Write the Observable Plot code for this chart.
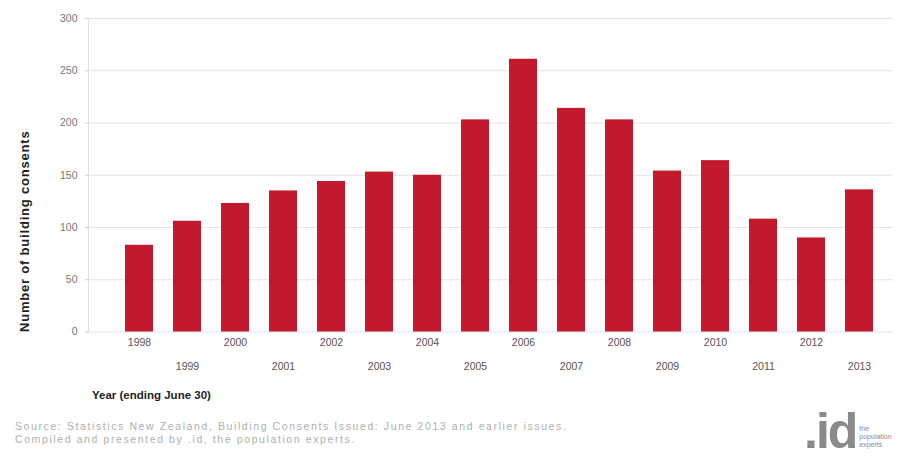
<!DOCTYPE html>
<html>
<head>
<meta charset="utf-8">
<script src="https://cdn.jsdelivr.net/npm/d3@7"></script>
<script src="https://cdn.jsdelivr.net/npm/@observablehq/plot@0.6"></script>
<style>
  body { margin: 0; width: 904px; height: 465px; position: relative; background: #fff; font-family: "Liberation Sans", Arial, sans-serif; overflow: hidden; }
  #chart { position: absolute; left: 0; top: 0; }
  .xtitle { position: absolute; left: 92px; top: 389px; font-weight: bold; font-size: 11.5px; color: #222; }
  .source { position: absolute; left: 15px; top: 420px; font-size: 10.5px; letter-spacing: 1.6px; color: #b0b0b0; line-height: 13px; }
  .logo { position: absolute; left: 804px; top: 405px; color: #8a8a8a; display: flex; align-items: flex-end; }
  .logo .big { font-size: 50px; font-weight: bold; letter-spacing: -2px; line-height: 52px; }
  .logo .small { font-size: 7px; line-height: 8px; margin-left: 3px; margin-bottom: 8px; }
  .ytitle { letter-spacing: 0.8px; }
</style>
</head>
<body>
<div id="chart"></div>
<div class="xtitle">Year (ending June 30)</div>
<div class="source">Source: Statistics New Zealand, Building Consents Issued: June 2013 and earlier issues.<br>Compiled and presented by .id, the population experts.</div>
<div class="logo"><span class="big">.id</span><span class="small">the<br>population<br>experts</span></div>
<script>
const years = ["1998","1999","2000","2001","2002","2003","2004","2005","2006","2007","2008","2009","2010","2011","2012","2013"];
const consents = [83,106,123,135,144,153,150,203,261,214,203,154,164,108,90,136];
const yTicks = [0,50,100,150,200,250,300];
const yTitle = "Number of building consents";

const data = years.map((year, i) => ({year, value: consents[i]}));
const evenYears = years.filter((d, i) => i % 2 === 0);
const oddYears = years.filter((d, i) => i % 2 === 1);

const chart = Plot.plot({
  width: 904,
  height: 380,
  marginTop: 18,
  marginBottom: 48.5,
  marginLeft: 88,
  marginRight: 11,
  style: {fontFamily: "'Liberation Sans', Arial, sans-serif", fontSize: "10.5px", background: "#fff"},
  x: {domain: years, paddingInner: 0.42, paddingOuter: 0.566, align: 0.651, label: null},
  y: {domain: [0, 300], label: null},
  marks: [
    Plot.gridY(yTicks, {stroke: "#e3e3e3", strokeOpacity: 1}),
    Plot.frame({anchor: "left", stroke: "#e0e0e0"}),
    Plot.barY(data, {x: "year", y: "value", fill: "#c21a2c"}),
    Plot.axisY(yTicks, {tickSize: 3, tickPadding: 8, stroke: "#d0d0d0", fill: "#777", label: null}),
    Plot.axisX(evenYears, {tickSize: 0, tickPadding: 7, fill: "#555", label: null}),
    Plot.axisX(oddYears, {tickSize: 0, tickPadding: 31, fill: "#555", label: null}),
    Plot.text([yTitle], {frameAnchor: "bottom-left", textAnchor: "start", rotate: -90, dx: -60, fontWeight: "bold", fontSize: 13, fill: "#222", className: "ytitle"})
  ]
});
document.getElementById("chart").appendChild(chart);
</script>
</body>
</html>
